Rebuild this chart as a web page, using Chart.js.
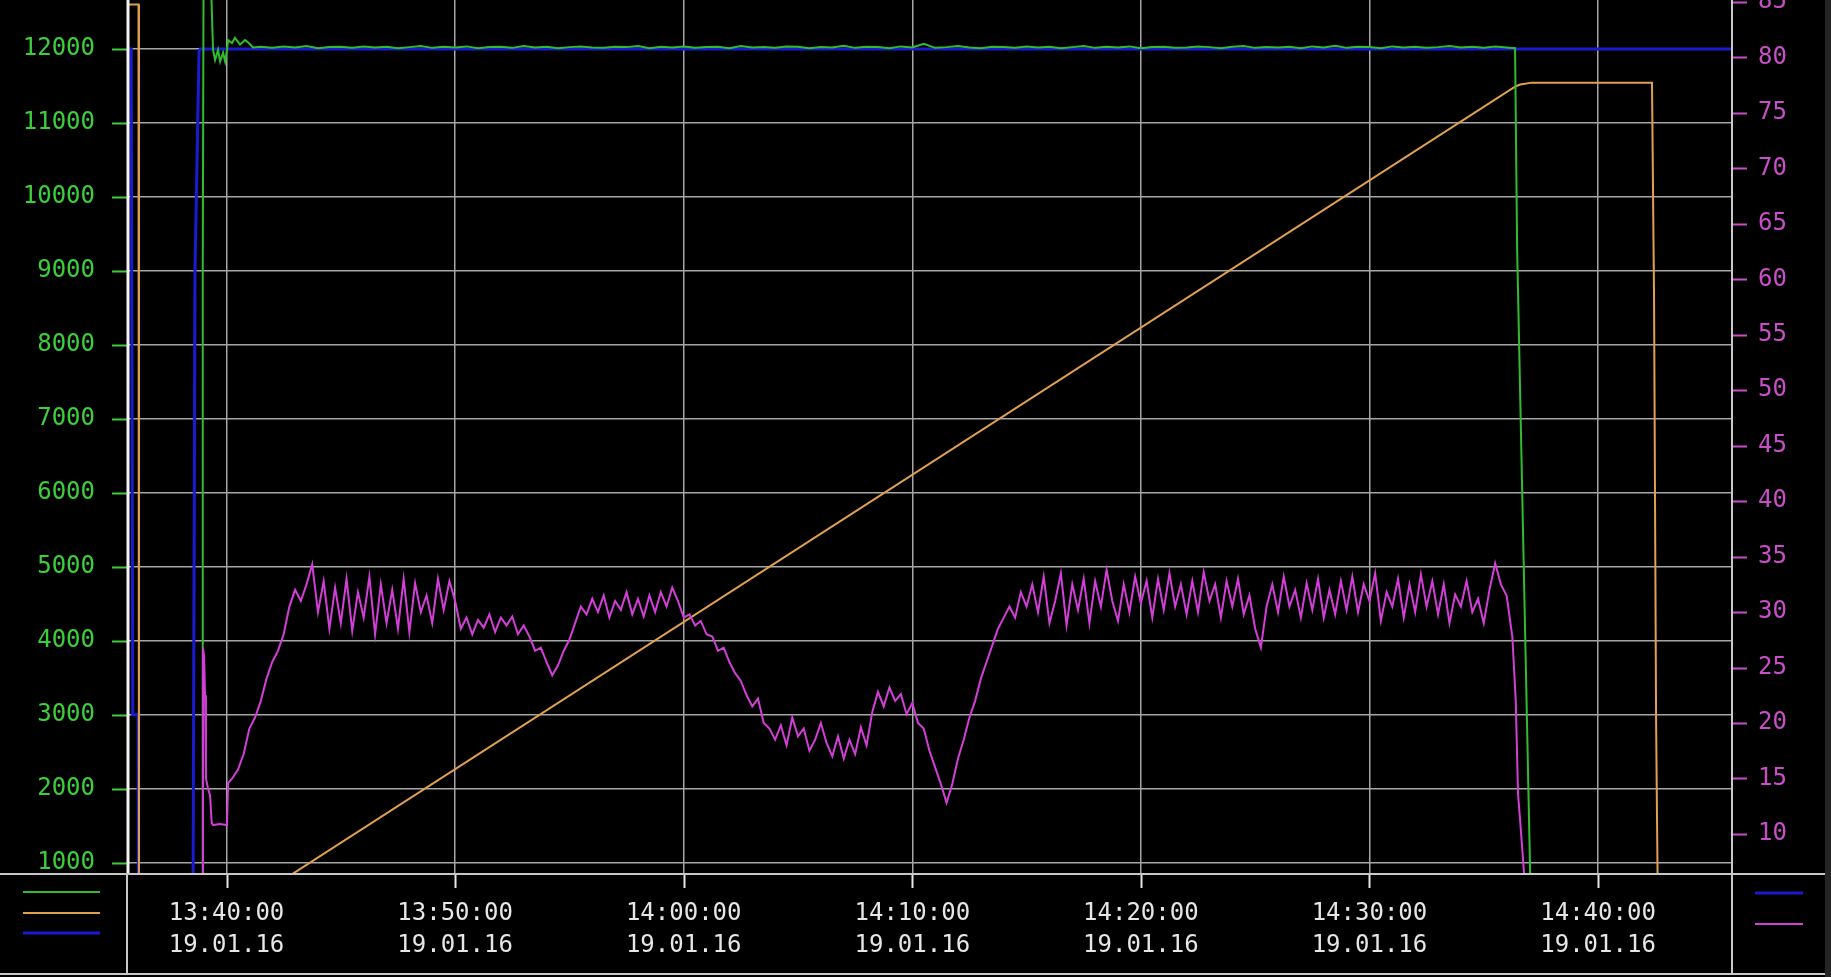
<!DOCTYPE html>
<html>
<head>
<meta charset="utf-8">
<script src="https://cdn.jsdelivr.net/npm/chart.js@4.4.1/dist/chart.umd.min.js"></script>
<style>
  html, body { margin: 0; padding: 0; background: #000; overflow: hidden; }
  #wrap { width: 1831px; height: 977px; }
</style>
</head>
<body>
<div id="wrap"><canvas id="trend" width="1831" height="977"></canvas></div>
<script>
// time axis is in minutes after 13:00 on 19.01.16
const dateLabel = '19.01.16';
const xMin = 35.69, xMax = 105.86;
const leftMin = 861, leftMax = 12662;
const rightMin = 6.48, rightMax = 85.18;

// green - speed (left axis)
const greenHeadT = [35.69, 38.93, 38.96, 39.0, 39.26, 39.41, 39.50, 39.63, 39.72, 39.85, 39.94, 40.02, 40.07, 40.24, 40.37, 40.59, 40.81, 40.94, 41.16];
const greenHeadV = [0, 0, 9000, 13500, 13500, 11990, 11850, 11990, 11830, 11950, 11830, 11990, 12120, 12080, 12150, 12060, 12120, 12090, 12020];
const greenStart = 41.5, greenStep = 0.5;
const greenValues = [
  12030, 12015, 12035, 12020, 12040, 12010, 12025, 12030, 12015, 12035,
  12020, 12030, 12010, 12025, 12040, 12015, 12030, 12020, 12035, 12010,
  12025, 12030, 12015, 12040, 12020, 12030, 12010, 12025, 12035, 12020,
  12015, 12030, 12025, 12040, 12010, 12030, 12020, 12035, 12015, 12025,
  12030, 12010, 12040, 12020, 12025, 12015, 12035, 12030, 12010, 12025,
  12020, 12045, 12015, 12030, 12025, 12010, 12035, 12020, 12070, 12015,
  12025, 12040, 12020, 12010, 12030, 12025, 12015, 12035, 12020, 12030,
  12010, 12025, 12040, 12015, 12030, 12020, 12035, 12010, 12025, 12030,
  12015, 12020, 12035, 12025, 12010, 12030, 12040, 12015, 12025, 12020,
  12030, 12010, 12035, 12020, 12045, 12015, 12030, 12025, 12010, 12035,
  12020, 12030, 12015, 12025, 12040, 12020, 12030, 12015, 12035, 12020
];
const greenTailT = [96.37, 96.46, 97.03, 97.10, 105.86];
const greenTailV = [12010, 9300, 860, 0, 0];

// orange (left axis)
const orangeT = [35.69, 36.15, 36.17, 38.62, 96.37, 96.60, 97.11, 102.36, 102.45, 102.54, 102.63, 105.86];
const orangeV = [12600, 12600, 0, 0, 11490, 11520, 11545, 11545, 8640, 2900, 0, 0];

// blue setpoint (left axis)
const blueT = [35.69, 35.83, 35.90, 36.13, 36.15, 38.53, 38.62, 38.80];
const blueV = [12000, 12000, 3000, 3000, 0, 0, 9000, 12000];

// blue (right axis)
const blue2T = [38.80, 105.86];
const blue2V = [80.77, 80.77];

// magenta (right axis)
const magHeadT = [38.95, 38.97, 39.02, 39.06, 39.10, 39.20, 39.28, 39.35, 39.42, 39.70, 40.02, 40.07];
const magHeadV = [3, 26.8, 26.0, 22.5, 15.0, 14.0, 13.5, 11.0, 10.8, 10.9, 10.8, 14.6];
const magStart = 40.25, magStep = 0.25;
const magValues = [
  15.0, 15.8, 17.2, 19.5,  20.5, 22.0, 24.0, 25.5,  26.5, 28.0, 30.5, 32.0,
  31.0, 32.5, 34.3, 30.0,  32.8, 28.5, 32.2, 29.0,  33.0, 28.3, 31.8, 29.5,
  33.2, 28.0, 32.5, 29.0,  32.0, 28.5, 33.0, 28.2,  32.6, 30.0, 31.5, 29.0,
  33.0, 30.2, 32.8, 31.0,  28.5, 29.5, 28.0, 29.3,  28.6, 29.8, 28.2, 29.5,
  28.8, 29.6, 28.0, 28.8,  27.8, 26.5, 26.8, 25.5,  24.3, 25.2, 26.5, 27.5,
  29.0, 30.5, 29.8, 31.2,  30.0, 31.5, 29.5, 31.0,  30.2, 31.8, 29.8, 31.2,
  29.6, 31.5, 30.0, 31.8,  30.5, 32.2, 31.0, 29.5,  29.8, 28.8, 29.2, 28.0,
  27.8, 26.5, 26.8, 25.5,  24.5, 23.8, 22.5, 21.5,  22.2, 20.0, 19.5, 18.5,
  19.8, 18.0, 20.5, 18.8,  19.5, 17.5, 18.5, 20.0,  18.2, 17.0, 18.8, 16.8,
  18.5, 17.2, 19.6, 18.0,  21.0, 22.8, 21.5, 23.2,  22.0, 22.6, 20.8, 21.8,
  20.0, 19.5, 17.5, 16.0,  14.5, 12.8, 14.5, 16.8,  18.5, 20.5, 22.0, 24.0,
  25.5, 27.0, 28.5, 29.5,  30.5, 29.5, 31.8, 30.5,  32.5, 30.0, 33.2, 29.0,
  31.0, 33.5, 28.8, 32.5,  30.2, 33.0, 29.0, 32.8,  30.5, 33.8, 31.0, 29.2,
  32.5, 30.0, 33.2, 30.8,  32.8, 29.5, 33.0, 30.2,  33.5, 30.5, 32.5, 29.8,
  32.8, 30.0, 33.6, 31.0,  32.5, 29.5, 32.8, 30.5,  33.0, 29.8, 31.5, 28.5,
  26.8, 30.5, 32.5, 30.0,  33.2, 30.5, 32.0, 29.5,  32.6, 30.2, 33.0, 29.5,
  32.0, 29.8, 32.8, 30.2,  33.2, 30.0, 32.5, 31.0,  33.5, 29.2, 31.8, 30.5,
  33.0, 29.5, 32.5, 30.0,  33.4, 30.5, 32.8, 29.8,  32.5, 29.0, 31.6, 30.5,
  32.8, 30.0, 31.2, 29.0,  32.0, 34.4, 32.5, 31.5
];
const magTailT = [96.25, 96.40, 96.50, 96.60, 96.76, 96.90];
const magTailV = [27.8, 22.0, 13.6, 11.0, 6.5, 3.0];

const colGreen = '#2fbd2f';
const colOrange = '#e0a050';
const colBlue = '#1a1ad0';
const colMagenta = '#d23fd6';
const gridGray = '#a6a6a6';

function pts(t, v) { return t.map((x, i) => ({ x: x, y: v[i] })); }
function sampled(start, step, vals) { return vals.map((y, i) => ({ x: start + i * step, y: y })); }
function isMult(v, m) { return Math.abs(v / m - Math.round(v / m)) < 1e-6; }
// regular tick positions between the scale bounds
function stepTicks(scale, step) {
    const out = [];
    for (let k = Math.ceil(scale.min / step); k * step <= scale.max; k++) {
        out.push({ value: k * step });
    }
    scale.ticks = out;
}
function fmtTime(v) {
    const total = Math.round(v);
    const h = 13 + Math.floor(total / 60);
    const m = total % 60;
    return h + ':' + String(m).padStart(2, '0') + ':00';
}

const greenData = pts(greenHeadT, greenHeadV)
    .concat(sampled(greenStart, greenStep, greenValues))
    .concat(pts(greenTailT, greenTailV));
const magData = pts(magHeadT, magHeadV)
    .concat(sampled(magStart, magStep, magValues))
    .concat(pts(magTailT, magTailV));

// tick marks, panel frame and legend strokes
const panelPlugin = {
    id: 'panel',
    afterDraw(chart) {
        const { ctx, chartArea: a, scales } = chart;
        const W = chart.width, H = chart.height;
        const ds = chart.data.datasets;
        ctx.save();
        ctx.lineWidth = 2;

        // x ticks
        ctx.strokeStyle = '#e6e6e6';
        scales.x.ticks.forEach(t => {
            const px = Math.round(scales.x.getPixelForValue(t.value)) + 0.5;
            const len = isMult(t.value, 10) ? 15 : 6;
            ctx.beginPath(); ctx.moveTo(px, a.bottom); ctx.lineTo(px, a.bottom + len); ctx.stroke();
        });
        // left ticks
        ctx.strokeStyle = '#3ccf3c';
        scales.y.ticks.forEach(t => {
            const py = Math.round(scales.y.getPixelForValue(t.value)) + 0.5;
            const len = isMult(t.value, 1000) ? 16 : 7;
            ctx.beginPath(); ctx.moveTo(a.left - len, py); ctx.lineTo(a.left, py); ctx.stroke();
        });
        // right ticks
        ctx.strokeStyle = '#c84fc8';
        scales.y1.ticks.forEach(t => {
            const py = Math.round(scales.y1.getPixelForValue(t.value)) + 0.5;
            const len = isMult(t.value, 5) ? 15 : 7;
            ctx.beginPath(); ctx.moveTo(a.right, py); ctx.lineTo(a.right + len, py); ctx.stroke();
        });

        // frame
        ctx.strokeStyle = '#c8c8c8';
        ctx.beginPath(); ctx.moveTo(0, a.bottom + 1); ctx.lineTo(W, a.bottom + 1); ctx.stroke();
        ctx.beginPath(); ctx.moveTo(0, H - 3); ctx.lineTo(W, H - 3); ctx.stroke();
        ctx.beginPath(); ctx.moveTo(a.left - 1, a.bottom); ctx.lineTo(a.left - 1, H - 3); ctx.stroke();
        ctx.beginPath(); ctx.moveTo(a.right, 0); ctx.lineTo(a.right, H - 3); ctx.stroke();
        ctx.strokeStyle = '#f4f4f4';
        ctx.lineWidth = 3;
        ctx.beginPath(); ctx.moveTo(a.left, 0); ctx.lineTo(a.left, a.bottom); ctx.stroke();
        ctx.fillStyle = '#242424';
        ctx.fillRect(W - 6, 0, 6, H);

        // legend strokes
        const swatch = (d, x0, x1, y) => {
            ctx.strokeStyle = d.borderColor;
            ctx.lineWidth = d.borderWidth;
            ctx.beginPath(); ctx.moveTo(x0, y); ctx.lineTo(x1, y); ctx.stroke();
        };
        swatch(ds[1], 23, 100, a.bottom + 19);
        swatch(ds[2], 23, 100, a.bottom + 40);
        swatch(ds[3], 23, 100, a.bottom + 60);
        swatch(ds[4], a.right + 23, a.right + 71, a.bottom + 20);
        swatch(ds[0], a.right + 23, a.right + 71, a.bottom + 51);
        ctx.restore();
    }
};

Chart.defaults.font.family = 'DejaVu Sans Mono';

new Chart(document.getElementById('trend'), {
    type: 'line',
    data: {
        datasets: [
            { label: 'magenta', data: magData, borderColor: colMagenta, borderWidth: 2, yAxisID: 'y1' },
            { label: 'green', data: greenData, borderColor: colGreen, borderWidth: 2, yAxisID: 'y' },
            { label: 'orange', data: pts(orangeT, orangeV), borderColor: colOrange, borderWidth: 2, yAxisID: 'y' },
            { label: 'blue', data: pts(blueT, blueV), borderColor: colBlue, borderWidth: 3, yAxisID: 'y' },
            { label: 'blue2', data: pts(blue2T, blue2V), borderColor: colBlue, borderWidth: 3, yAxisID: 'y1' }
        ]
    },
    options: {
        responsive: false,
        animation: false,
        layout: { padding: 0 },
        elements: { point: { radius: 0 }, line: { tension: 0 } },
        plugins: { legend: { display: false }, tooltip: { enabled: false } },
        scales: {
            x: {
                type: 'linear',
                position: 'bottom',
                min: xMin,
                max: xMax,
                afterBuildTicks: s => stepTicks(s, 2),
                afterFit: s => { s.height = 104; s.paddingLeft = 0; s.paddingRight = 0; },
                ticks: {
                    autoSkip: false,
                    maxRotation: 0,
                    color: '#e6e6e6',
                    font: { size: 24, lineHeight: 1.33 },
                    padding: 10,
                    callback: v => isMult(v, 10) ? [fmtTime(v), dateLabel] : null
                },
                grid: {
                    color: c => (c.tick && isMult(c.tick.value, 10)) ? gridGray : 'transparent',
                    lineWidth: 1.5,
                    tickLength: 15,
                    tickColor: 'transparent'
                },
                border: { display: false }
            },
            y: {
                type: 'linear',
                position: 'left',
                min: leftMin,
                max: leftMax,
                afterBuildTicks: s => stepTicks(s, 200),
                afterFit: s => { s.width = 128; s.paddingTop = 0; s.paddingBottom = 0; },
                ticks: {
                    autoSkip: false,
                    color: '#3ccf3c',
                    font: { size: 24 },
                    padding: 17,
                    callback: v => isMult(v, 1000) ? String(v) : null
                },
                grid: {
                    color: c => (c.tick && isMult(c.tick.value, 1000)) ? gridGray : 'transparent',
                    lineWidth: 1.5,
                    tickLength: 16,
                    tickColor: 'transparent'
                },
                border: { display: false }
            },
            y1: {
                type: 'linear',
                position: 'right',
                min: rightMin,
                max: rightMax,
                afterBuildTicks: s => stepTicks(s, 1),
                afterFit: s => { s.width = 99; s.paddingTop = 0; s.paddingBottom = 0; },
                ticks: {
                    autoSkip: false,
                    color: '#c84fc8',
                    font: { size: 24 },
                    padding: 11,
                    callback: v => isMult(v, 5) ? String(v) : null
                },
                grid: { drawOnChartArea: false, tickLength: 15, tickColor: 'transparent' },
                border: { display: false }
            }
        }
    },
    plugins: [panelPlugin]
});
</script>
</body>
</html>
